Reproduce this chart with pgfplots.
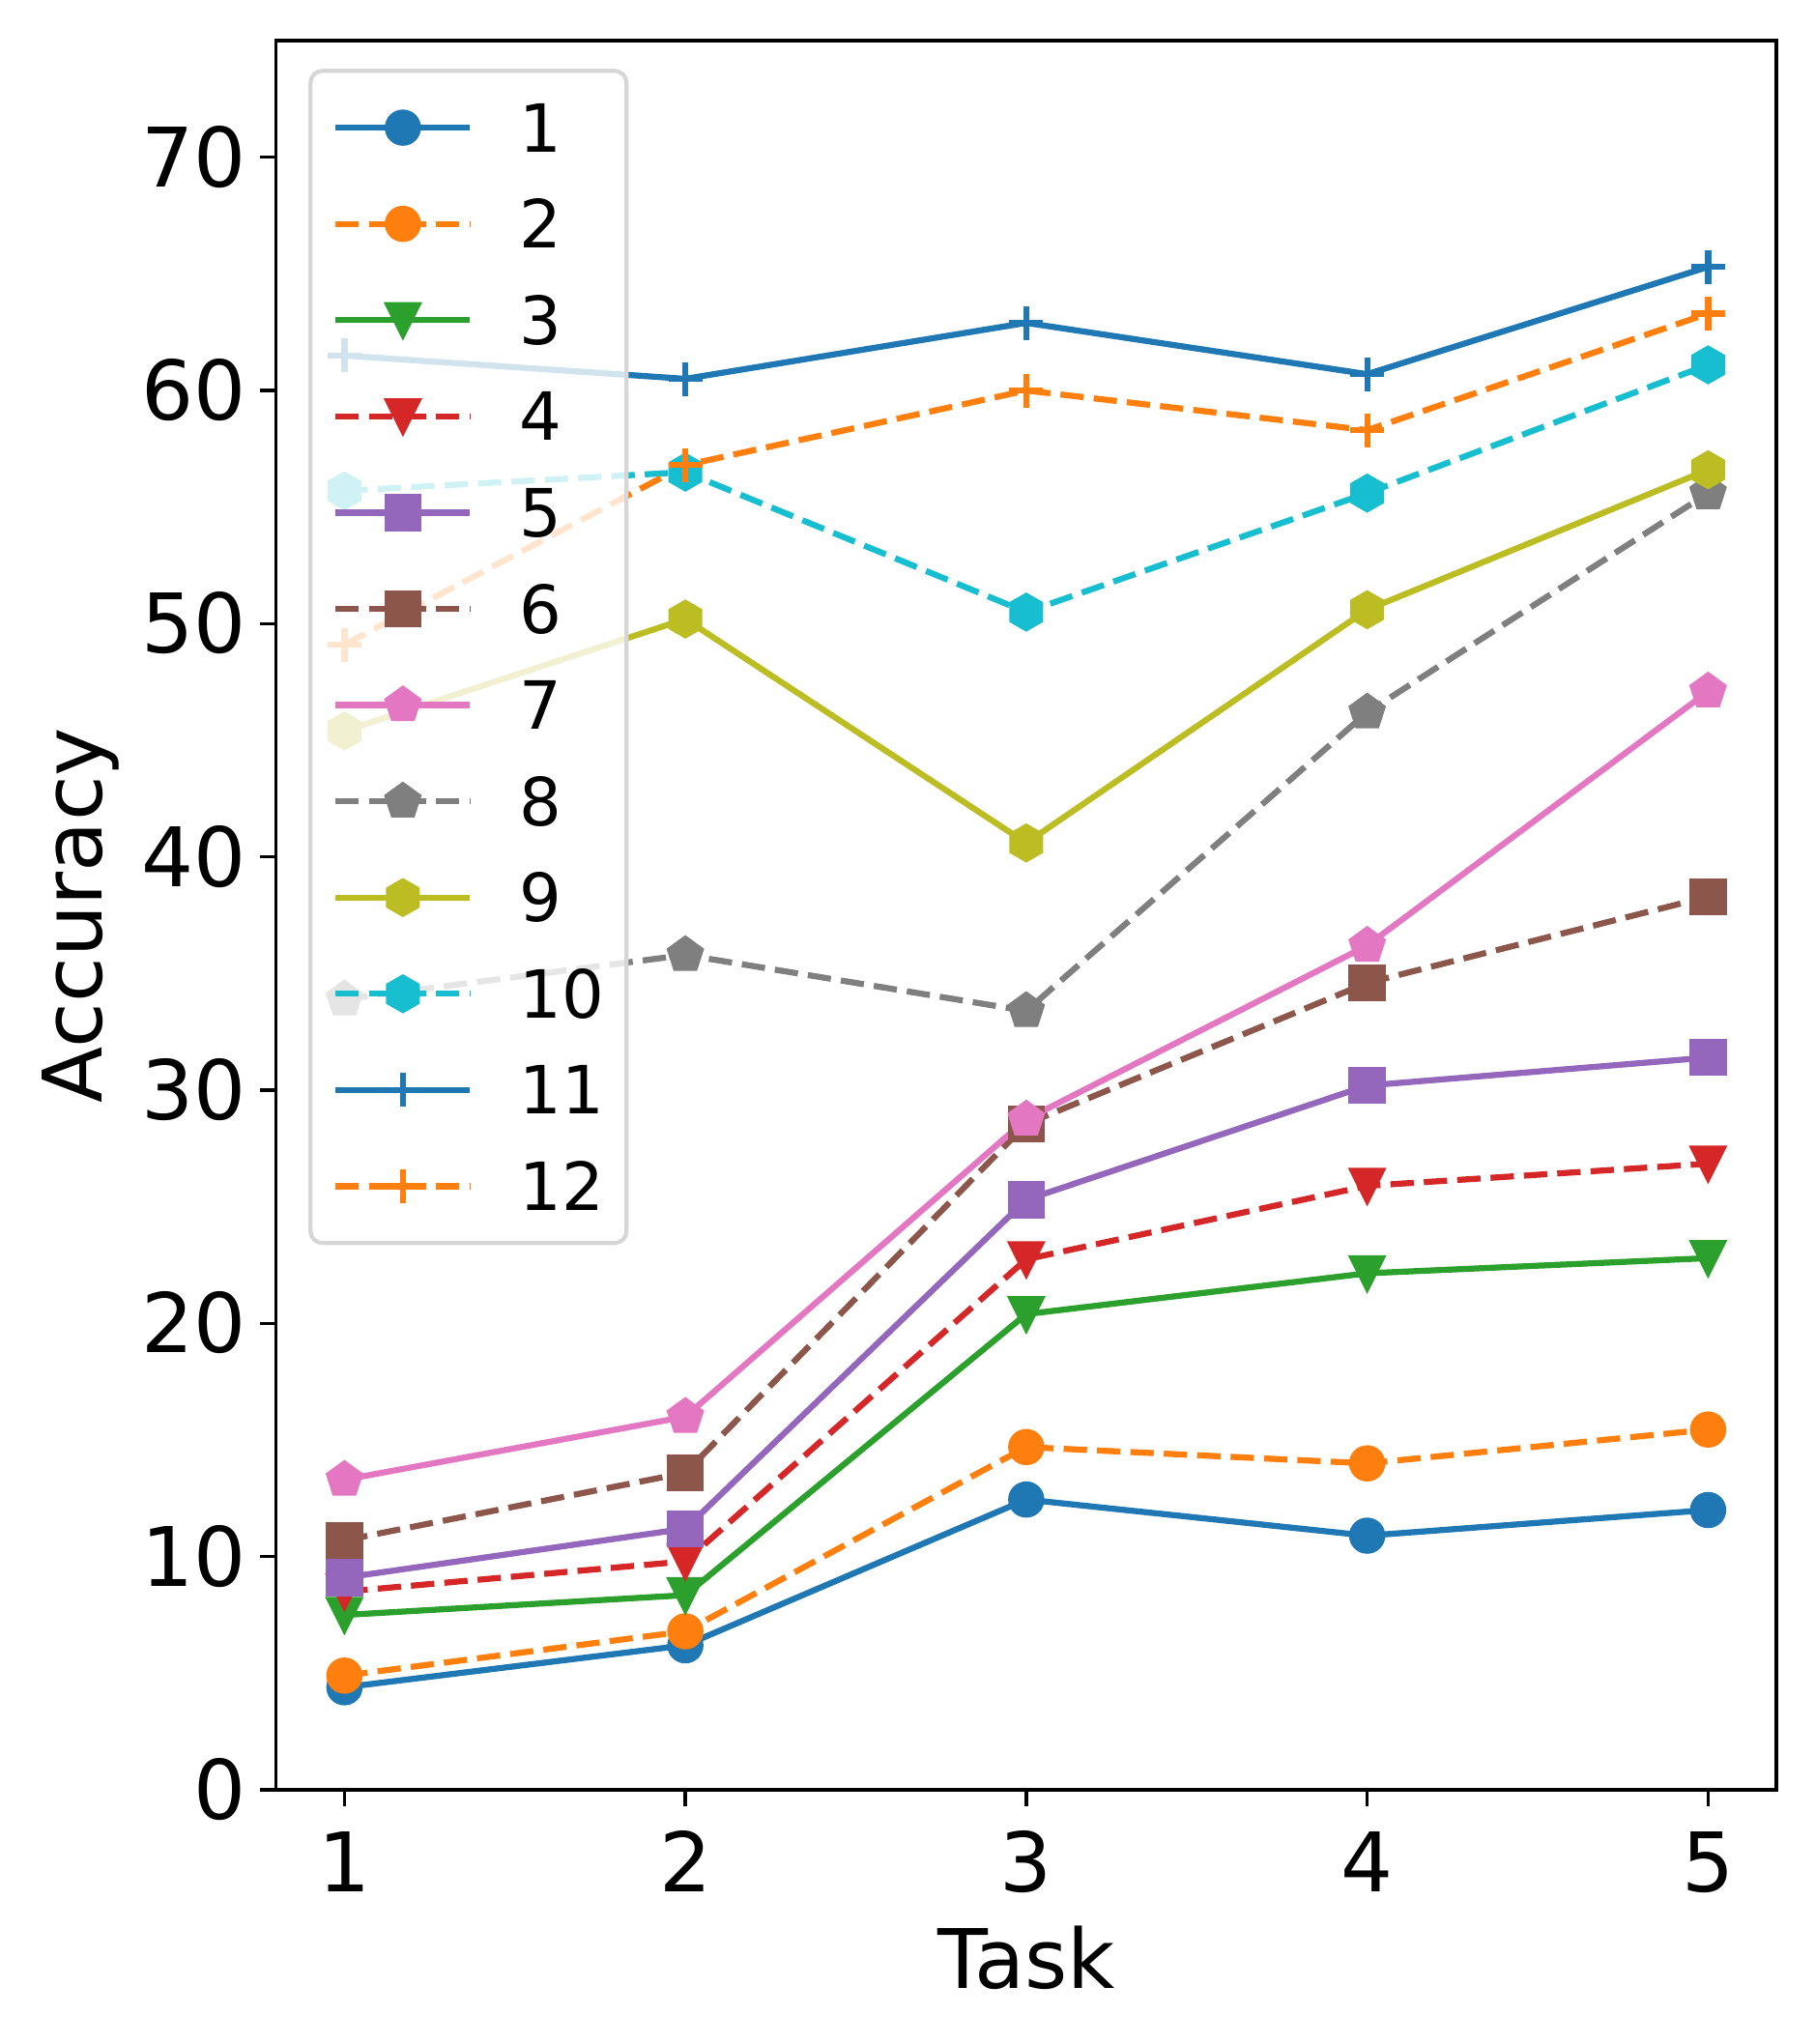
\documentclass[border=0pt]{standalone}
\usepackage{fontspec}
\setmainfont{DejaVu Sans}
\usepackage{pgfplots}
\pgfplotsset{compat=1.18}
\usetikzlibrary{plotmarks}

\definecolor{C0}{HTML}{1F77B4}
\definecolor{C1}{HTML}{FF7F0E}
\definecolor{C2}{HTML}{2CA02C}
\definecolor{C3}{HTML}{D62728}
\definecolor{C4}{HTML}{9467BD}
\definecolor{C5}{HTML}{8C564B}
\definecolor{C6}{HTML}{E377C2}
\definecolor{C7}{HTML}{7F7F7F}
\definecolor{C8}{HTML}{BCBD22}
\definecolor{C9}{HTML}{17BECF}
\definecolor{legedge}{RGB}{214,214,214}

\pgfdeclareplotmark{mpltri}{%
  \pgfpathmoveto{\pgfqpoint{0pt}{-\pgfplotmarksize}}%
  \pgfpathlineto{\pgfqpoint{-\pgfplotmarksize}{\pgfplotmarksize}}%
  \pgfpathlineto{\pgfqpoint{\pgfplotmarksize}{\pgfplotmarksize}}%
  \pgfpathclose\pgfusepathqfillstroke}
\pgfdeclareplotmark{mplpent}{%
  \pgfpathmoveto{\pgfqpointpolar{90}{\pgfplotmarksize}}%
  \pgfpathlineto{\pgfqpointpolar{162}{\pgfplotmarksize}}%
  \pgfpathlineto{\pgfqpointpolar{234}{\pgfplotmarksize}}%
  \pgfpathlineto{\pgfqpointpolar{306}{\pgfplotmarksize}}%
  \pgfpathlineto{\pgfqpointpolar{18}{\pgfplotmarksize}}%
  \pgfpathclose\pgfusepathqfillstroke}
\pgfdeclareplotmark{mplhex}{%
  \pgfpathmoveto{\pgfqpointpolar{90}{\pgfplotmarksize}}%
  \pgfpathlineto{\pgfqpointpolar{150}{\pgfplotmarksize}}%
  \pgfpathlineto{\pgfqpointpolar{210}{\pgfplotmarksize}}%
  \pgfpathlineto{\pgfqpointpolar{270}{\pgfplotmarksize}}%
  \pgfpathlineto{\pgfqpointpolar{330}{\pgfplotmarksize}}%
  \pgfpathlineto{\pgfqpointpolar{30}{\pgfplotmarksize}}%
  \pgfpathclose\pgfusepathqfillstroke}

\pgfplotsset{
  mplline/.style={line width=1.5pt, line join=round},
  mpldash/.style={line width=1.5pt, dash pattern=on 5.8pt off 2.5pt},
  mk/.style={mark options={solid, line width=1pt, line join=miter, fill=#1, draw=#1}},
}

\begin{document}
\begin{tikzpicture}
\begin{axis}[
  name=ax,
  scale only axis,
  width=372.5pt, height=434.4pt,
  xmin=0.8, xmax=5.2, ymin=0, ymax=75,
  xtick={1,2,3,4,5}, ytick={0,10,20,30,40,50,60,70},
  tick align=outside, xtick pos=bottom, ytick pos=left,
  major tick length=4pt,
  tick style={black, line width=0.8pt},
  axis line style={black, line width=0.8pt},
  /pgf/number format/assume math mode=true,
  ticklabel style={font=\fontsize{20.4}{24}\selectfont, inner sep=0pt, text height=14.6pt, text depth=0pt},
  xticklabel style={anchor=north, yshift=-6.5pt},
  yticklabel style={anchor=east, xshift=-3.2pt},
  xlabel={Task}, ylabel={Accuracy},
  label style={font=\fontsize{20.4}{24}\selectfont},
  xlabel style={at={(axis description cs:0.5,0)}, anchor=base, yshift=-49.4pt},
  ylabel style={at={(axis description cs:-0.1165,0.5)}, anchor=base},
  legend cell align=left,
  legend image code/.code={%
    \draw[sharp corners, fill opacity=1, draw opacity=1, mark repeat=2, mark phase=2, #1]
      plot coordinates {(0pt,0pt) (16.7pt,0pt) (33.4pt,0pt)};},
  legend style={
    at={(0,1)}, anchor=north west, xshift=8pt, yshift=-7pt,
    draw=legedge, line width=1pt, rounded corners=3pt,
    fill=white, fill opacity=0.8, draw opacity=1, text opacity=1,
    font=\fontsize{16.5}{19}\selectfont,
    inner xsep=5.5pt, inner ysep=8.1pt,
    row sep=11.9pt, column sep=11.6pt,
    nodes={inner sep=0pt, text height=12pt, text depth=0pt},
  },
]
% 1
\addplot[C0, mplline, mark=*, mark size=4pt, mk=C0] coordinates {(1,4.4) (2,6.2) (3,12.45) (4,10.9) (5,12.0)};
\addlegendentry{1}
% 2
\addplot[C1, mpldash, mark=*, mark size=4pt, mk=C1] coordinates {(1,4.9) (2,6.8) (3,14.7) (4,14.0) (5,15.45)};
\addlegendentry{2}
% 3
\addplot[C2, mplline, mark=mpltri, mark size=4pt, mk=C2] coordinates {(1,7.5) (2,8.35) (3,20.4) (4,22.15) (5,22.8)};
\addlegendentry{3}
% 4
\addplot[C3, mpldash, mark=mpltri, mark size=4pt, mk=C3] coordinates {(1,8.5) (2,9.8) (3,22.75) (4,25.9) (5,26.85)};
\addlegendentry{4}
% 5
\addplot[C4, mplline, mark=square*, mark size=4.1pt, mk=C4] coordinates {(1,9.1) (2,11.2) (3,25.3) (4,30.2) (5,31.4)};
\addlegendentry{5}
% 6
\addplot[C5, mpldash, mark=square*, mark size=4.1pt, mk=C5] coordinates {(1,10.7) (2,13.6) (3,28.55) (4,34.6) (5,38.3)};
\addlegendentry{6}
% 7
\addplot[C6, mplline, mark=mplpent, mark size=4.3pt, mk=C6] coordinates {(1,13.3) (2,16.0) (3,28.75) (4,36.2) (5,47.1)};
\addlegendentry{7}
% 8
\addplot[C7, mpldash, mark=mplpent, mark size=4.3pt, mk=C7] coordinates {(1,33.9) (2,35.8) (3,33.4) (4,46.2) (5,55.6)};
\addlegendentry{8}
% 9
\addplot[C8, mplline, mark=mplhex, mark size=4.3pt, mk=C8] coordinates {(1,45.4) (2,50.2) (3,40.6) (4,50.6) (5,56.6)};
\addlegendentry{9}
% 10
\addplot[C9, mpldash, mark=mplhex, mark size=4.3pt, mk=C9] coordinates {(1,55.7) (2,56.5) (3,50.5) (4,55.6) (5,61.1)};
\addlegendentry{10}
% 11
\addplot[C0, mplline, mark=+, mark size=4.2pt, mark options={solid, line width=1.5pt, draw=C0}] coordinates {(1,61.5) (2,60.5) (3,62.9) (4,60.7) (5,65.3)};
\addlegendentry{11}
% 12
\addplot[C1, mpldash, mark=+, mark size=4.2pt, mark options={solid, line width=1.5pt, draw=C1}] coordinates {(1,49.1) (2,56.8) (3,60.0) (4,58.3) (5,63.3)};
\addlegendentry{12}
\end{axis}
\pgfresetboundingbox
\useasboundingbox ([shift={(-68.6pt,-63.1pt)}]ax.south west) rectangle ([shift={(9.6pt,10.1pt)}]ax.north east);
\end{tikzpicture}
\end{document}
